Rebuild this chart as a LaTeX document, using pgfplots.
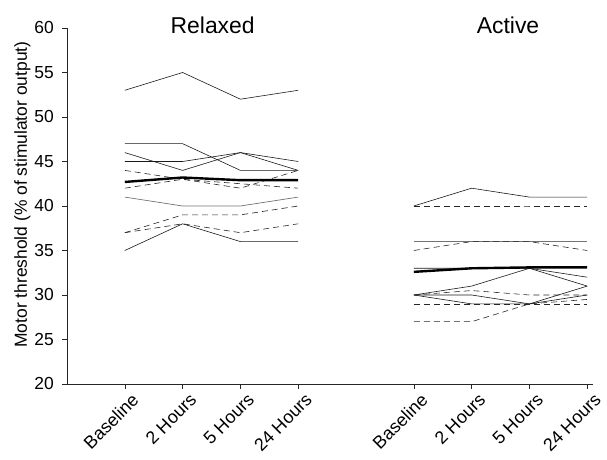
\documentclass[border=0pt]{standalone}
\usepackage{fontspec}
\setmainfont{Liberation Sans}
\usepackage{pgfplots}
\pgfplotsset{compat=1.18}

\begin{document}
\begin{tikzpicture}[x=1bp,y=1bp]
\useasboundingbox (0,0) rectangle (607,460);
\begin{axis}[
  at={(67bp,76bp)}, anchor=south west,
  scale only axis, width=526bp, height=356bp,
  xmin=-1, xmax=8.1, ymin=20, ymax=60,
  axis x line*=bottom, axis y line*=left,
  clip=false,
  xtick={0,1,2,3,5,6,7,8},
  xticklabels={Baseline,2 Hours,5 Hours,24 Hours,Baseline,2 Hours,5 Hours,24 Hours},
  ytick={20,25,...,60},
  tick align=outside, major tick length=5bp,
  tick style={black!85, line width=0.6bp},
  axis line style={black!85, line width=0.7bp},
  /pgf/number format/assume math mode=true,
  yticklabel style={font=\fontsize{17.5}{20}\selectfont, inner sep=0pt, xshift=-8bp},
  xticklabel style={font=\fontsize{18}{20}\selectfont, rotate=45, anchor=east, inner sep=0pt, xshift=2bp, yshift=-13bp},
  ylabel={Motor threshold (\% of stimulator output)},
  ylabel style={font=\fontsize{17.5}{20}\selectfont, at={(axis description cs:-0.085,0.532)}, anchor=center, rotate=0},
  indiv/.style={black!90, line width=0.6bp},
  indivgray/.style={black!55, line width=0.7bp},
  dashedline/.style={black!85, line width=0.6bp, dash pattern=on 6bp off 4bp},
  meanline/.style={black, line width=2.4bp},
]
% Relaxed condition: individual subjects
\addplot[indiv] coordinates {(0,53) (1,55) (2,52) (3,53)};
\addplot[indiv] coordinates {(0,47) (1,47) (2,44) (3,44)};
\addplot[indiv] coordinates {(0,46) (1,44) (2,46) (3,44)};
\addplot[indiv] coordinates {(0,45) (1,45) (2,46) (3,45)};
\addplot[indivgray] coordinates {(0,41) (1,40) (2,40) (3,41)};
\addplot[indiv] coordinates {(0,35) (1,38) (2,36) (3,36)};
\addplot[dashedline] coordinates {(0,44) (1,43) (2,42) (3,44)};
\addplot[dashedline] coordinates {(0,42) (1,43) (2,42.5) (3,42)};
\addplot[dashedline] coordinates {(0,37) (1,39) (2,39) (3,40)};
\addplot[dashedline] coordinates {(0,37) (1,38) (2,37) (3,38)};
% Relaxed condition: group mean
\addplot[meanline] coordinates {(0,42.7) (1,43.2) (2,42.9) (3,42.9)};

% Active condition: individual subjects
\addplot[indiv] coordinates {(5,40) (6,42) (7,41) (8,41)};
\addplot[dashedline] coordinates {(5,40) (6,40) (7,40) (8,40)};
\addplot[indivgray] coordinates {(5,36) (6,36) (7,36) (8,36)};
\addplot[dashedline] coordinates {(5,35) (6,36) (7,36) (8,35)};
\addplot[indiv] coordinates {(5,33) (6,33) (7,33) (8,32)};
\addplot[indiv] coordinates {(5,30) (6,31) (7,33) (8,31)};
\addplot[indiv] coordinates {(5,30) (6,30) (7,29) (8,31)};
\addplot[indiv] coordinates {(5,30) (6,29) (7,29) (8,30)};
\addplot[dashedline] coordinates {(5,30) (6,30.5) (7,30) (8,30)};
\addplot[dashedline] coordinates {(5,29) (6,29) (7,29) (8,29)};
\addplot[dashedline] coordinates {(5,27) (6,27) (7,29) (8,29.5)};
% Active condition: group mean
\addplot[meanline] coordinates {(5,32.6) (6,33.0) (7,33.1) (8,33.1)};

% Panel titles
\node[font=\fontsize{23}{26}\selectfont, anchor=base] at (axis cs:1.52,59.4) {Relaxed};
\node[font=\fontsize{23}{26}\selectfont, anchor=base] at (axis cs:6.63,59.4) {Active};
\end{axis}
\end{tikzpicture}
\end{document}
